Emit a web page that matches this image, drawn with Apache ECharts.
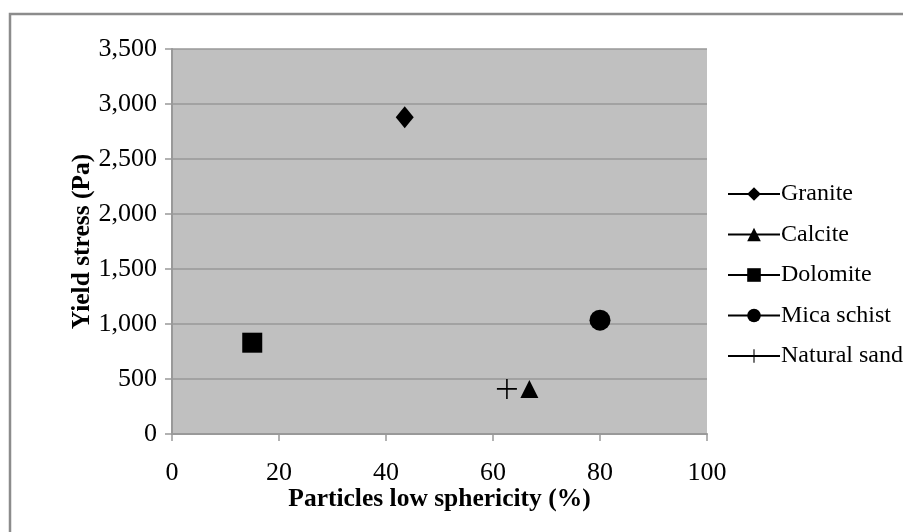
<!DOCTYPE html>
<html>
<head>
<meta charset="utf-8">
<script src="https://cdn.jsdelivr.net/npm/echarts@6/dist/echarts.min.js"></script>
<style>
  html, body { margin: 0; padding: 0; background: #fff; }
  #chart { width: 903px; height: 532px; }
</style>
</head>
<body>
<div id="chart"></div>
<script>
// DATA
var materials = ["Granite", "Calcite", "Dolomite", "Mica schist", "Natural sand"];
var lowSphericity = [43.5, 66.8, 15, 80, 62.6];
var yieldStress = [2880, 410, 830, 1035, 410];
var xTicks = [0, 20, 40, 60, 80, 100];
var yTicks = [0, 500, 1000, 1500, 2000, 2500, 3000, 3500];

var plusPath = "path://M0,9.2H20V10.8H0Z M9.2,0H10.8V20H9.2Z";
var symbols = ["diamond", "triangle", "rect", "circle", plusPath];
var symbolSizes = [[18, 22], [18, 18], [20, 20], [21, 21], [20, 20]];

var font = "Liberation Serif, Times New Roman, serif";

var series = [];
for (var i = 0; i < materials.length; i++) {
  series.push({
    name: materials[i],
    type: "line",
    data: [[lowSphericity[i], yieldStress[i]]],
    symbol: symbols[i],
    symbolSize: symbolSizes[i],
    showSymbol: true,
    itemStyle: { color: "#000", borderWidth: 0 },
    lineStyle: { color: "#000", width: 1.5 }
  });
}

var chart = echarts.init(document.getElementById("chart"));

chart.setOption({
  animation: false,
  textStyle: { fontFamily: font },
  graphic: [{
    type: "rect",
    shape: { x: 10, y: 14, width: 900, height: 530 },
    style: { fill: "none", stroke: "#8c8c8c", lineWidth: 2.5 }
  }],
  grid: {
    left: 172, top: 49, right: 196, bottom: 98,
    show: true, backgroundColor: "#c0c0c0", borderWidth: 0
  },
  legend: {
    orient: "vertical",
    left: 727, top: 182,
    padding: 0,
    itemWidth: 52, itemHeight: 17, itemGap: 16.5,
    textStyle: { fontFamily: font, fontSize: 24, lineHeight: 24, color: "#000", padding: [0, 0, 0, -4] },
    data: materials
  },
  xAxis: {
    type: "value",
    min: 0, max: 100, interval: 20,
    name: "Particles low sphericity (%)",
    nameLocation: "middle",
    nameGap: 52,
    nameMoveOverlap: false,
    nameTextStyle: { fontFamily: font, fontSize: 25.5, fontWeight: "bold", color: "#000" },
    axisLine: { show: true, lineStyle: { color: "#999", width: 2 } },
    axisTick: { show: true, length: 7, lineStyle: { color: "#999", width: 1.5 } },
    axisLabel: { margin: 26, fontFamily: font, fontSize: 26, color: "#000" },
    splitLine: { show: false }
  },
  yAxis: {
    type: "value",
    min: 0, max: 3500, interval: 500,
    name: "Yield stress (Pa)",
    nameLocation: "middle",
    nameGap: 77,
    nameMoveOverlap: false,
    nameTextStyle: { fontFamily: font, fontSize: 25.5, fontWeight: "bold", color: "#000" },
    axisLine: { show: true, lineStyle: { color: "#999", width: 2 } },
    axisTick: { show: true, length: 7, lineStyle: { color: "#999", width: 1.5 } },
    axisLabel: {
      margin: 15, fontFamily: font, fontSize: 26, color: "#000",
      formatter: function (v) { return v.toLocaleString("en-US"); }
    },
    splitLine: { show: true, lineStyle: { color: "#999", width: 1.5 } }
  },
  series: series
});
</script>
</body>
</html>
